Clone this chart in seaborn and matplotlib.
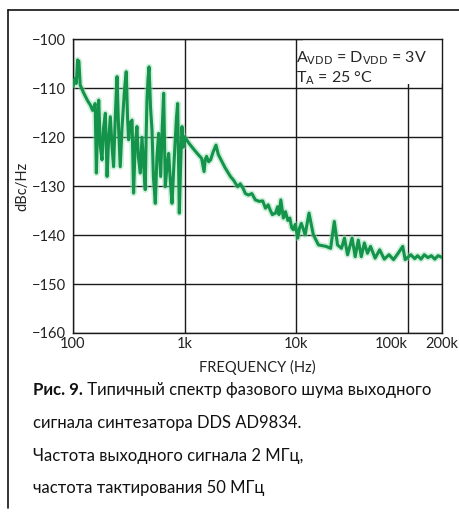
import matplotlib
matplotlib.use("Agg")
import numpy as np
import pandas as pd
import matplotlib.pyplot as plt
import seaborn as sns
from matplotlib.lines import Line2D
from matplotlib.patches import Rectangle

# phase noise trace (Hz, dBc/Hz)
freq_hz = [100, 104, 107, 110, 113, 116, 125, 135, 143, 150, 158, 162, 166, 170,
           176, 182, 188, 195, 202, 208, 216, 224, 231, 240, 248, 256, 265, 275,
           290, 300, 308, 315, 325, 338, 349, 360, 374, 385, 401, 415, 430, 444,
           452, 460, 470, 480, 495, 510, 525, 546, 565, 585, 610, 630, 649, 660,
           671, 695, 719, 745, 771, 800, 825, 845, 866, 880, 896, 920, 946, 975,
           1000,
           1100, 1222, 1320, 1419, 1450, 1493, 1530, 1573, 1640, 1708, 1800, 1909,
           2000, 2086, 2300, 2569, 2750, 2981, 3150, 3334, 3500, 3727, 4000, 4300,
           4660, 5000, 5300, 5600, 5820, 6100, 6507, 6800, 7000, 7270, 7660, 8000,
           8400, 8750, 9100, 9420, 9800, 10300,
           10700, 11100, 12000, 13000, 14200, 15800, 18500, 20300, 21900, 23400,
           25400, 27000, 28800, 31600, 33700, 35900, 38200, 40700, 43400, 46200,
           50800, 55800, 61400, 67600, 74300, 81700, 89800, 94400, 106000, 115000,
           122000, 131000, 140000, 151000, 162000, 174000, 186000, 200000]
noise_dbc = [-109.7, -108.0, -109.0, -104.2, -104.5, -109.3, -111.0, -112.5, -113.4,
             -114.5, -113.1, -127.3, -118.0, -112.4, -122.0, -124.6, -118.0, -115.1,
             -128.0, -121.0, -115.8, -122.0, -126.0, -115.0, -107.6, -118.0, -126.0,
             -118.0, -110.0, -106.6, -116.0, -120.5, -117.0, -116.5, -131.4, -122.0,
             -117.8, -124.0, -127.3, -120.0, -126.0, -130.7, -120.0, -112.4, -108.0,
             -105.6, -114.0, -118.5, -128.0, -133.5, -124.0, -119.2, -128.0, -118.0,
             -111.0, -121.0, -130.1, -126.0, -123.3, -129.0, -133.5, -126.0, -120.5,
             -116.0, -113.1, -124.0, -135.5, -126.0, -117.8, -122.0, -119.9,
             -121.3, -122.6, -123.5, -124.3, -125.5, -127.0, -124.5, -123.9, -125.0,
             -124.6, -123.0, -121.6, -123.5, -124.3, -126.2, -128.0, -128.8, -130.1,
             -129.5, -130.4, -131.5, -131.8, -131.5, -132.8, -133.1, -133.0, -134.5,
             -133.8, -134.8, -135.8, -135.5, -134.2, -135.8, -132.8, -136.5, -135.2,
             -137.0, -136.5, -138.5, -138.9, -137.8, -140.6,
             -138.5, -137.6, -139.9, -135.5, -139.9, -142.0, -142.3, -142.7, -137.2,
             -142.0, -142.7, -140.6, -144.0, -140.6, -144.4, -141.0, -144.4, -141.6,
             -143.7, -142.3, -144.7, -143.0, -144.9, -144.0, -145.0, -143.7, -142.3,
             -145.0, -144.0, -144.8, -144.2, -144.9, -144.0, -144.6, -144.2, -144.9,
             -144.2, -144.5]

x_ticks = [100, 1000, 10000, 100000, 200000]
x_ticklabels = ["100", "1k", "10k", "100k", "200k"]
y_ticks = [-100, -110, -120, -130, -140, -150, -160]

caption_bold = "Рис. 9."
caption_rest = " Типичный спектр фазового шума выходного"
caption_lines = ["сигнала синтезатора DDS AD9834.",
                 "Частота выходного сигнала 2 МГц,",
                 "частота тактирования 50 МГц"]

sns.set_style("white")
plt.rcParams["font.family"] = ["Lato", "DejaVu Sans"]

df = pd.DataFrame({"freq": freq_hz, "dbc": noise_dbc})

fig = plt.figure(figsize=(4.59, 5.15), dpi=100)
ax = fig.add_axes([0.159, 0.3534, 0.803, 0.570])

sns.lineplot(data=df, x="freq", y="dbc", ax=ax, color="#8fdcab",
             linewidth=4.6, alpha=0.45, zorder=2)
sns.lineplot(data=df, x="freq", y="dbc", ax=ax, color="#14934b",
             linewidth=2.2, zorder=3)

ax.set_xscale("log")
ax.set_xlim(100, 200000)
ax.set_ylim(-160, -100)
ax.set_xticks(x_ticks)
ax.set_xticklabels(x_ticklabels)
ax.xaxis.set_minor_locator(matplotlib.ticker.NullLocator())
ax.set_yticks(y_ticks)
ax.set_yticklabels([f"\u2212{abs(v)}" for v in y_ticks])
ax.tick_params(length=0, labelsize=10.5, colors="#222222")
ax.tick_params(axis="y", pad=5)
ax.tick_params(axis="x", pad=3)
xl = ax.get_xticklabels()
xl[3].set_horizontalalignment("right")
ax.set_axisbelow(True)
ax.grid(True, which="major", color="#1a1a1a", linewidth=1.0)
for s in ax.spines.values():
    s.set_color("#1a1a1a")
    s.set_linewidth(1.0)
ax.set_xlabel("FREQUENCY (Hz)", fontsize=10.5, color="#222222", labelpad=6)
ax.set_ylabel("dBc/Hz", fontsize=10.5, color="#222222", labelpad=2)

# white block behind the conditions note
ax.add_patch(Rectangle((11500, -109.2), 200000 - 11500, 9.2,
                       facecolor="white", edgecolor="none", zorder=1))
ax.text(0.605, 0.965, r"A$_{\mathrm{VDD}}$ = D$_{\mathrm{VDD}}$ = 3V",
        transform=ax.transAxes, fontsize=11.5, va="top", ha="left", zorder=4)
ax.text(0.605, 0.900, r"T$_{\mathrm{A}}$ = 25 °C",
        transform=ax.transAxes, fontsize=11.5, va="top", ha="left", zorder=4)

# page frame
fig.add_artist(Line2D([8 / 459, 8 / 459], [1 - 10 / 515, 1 - 508 / 515],
                      color="#111111", linewidth=1.2, transform=fig.transFigure))
fig.add_artist(Line2D([8 / 459, 1.0], [1 - 10 / 515, 1 - 10 / 515],
                      color="#111111", linewidth=1.2, transform=fig.transFigure))

# caption
t0 = fig.text(33 / 459, 1 - 398 / 515, caption_bold, fontsize=12,
              fontweight="bold", va="bottom", ha="left", color="#111111")
plt.annotate(caption_rest, xy=(1, 0), xycoords=t0, fontsize=12,
             va="bottom", ha="left", color="#111111",
             annotation_clip=False)
for i, line in enumerate(caption_lines):
    fig.text(33 / 459, 1 - (431 + i * 32.5) / 515, line, fontsize=12,
             va="bottom", ha="left", color="#111111")

fig.savefig("out.png", dpi=100)
